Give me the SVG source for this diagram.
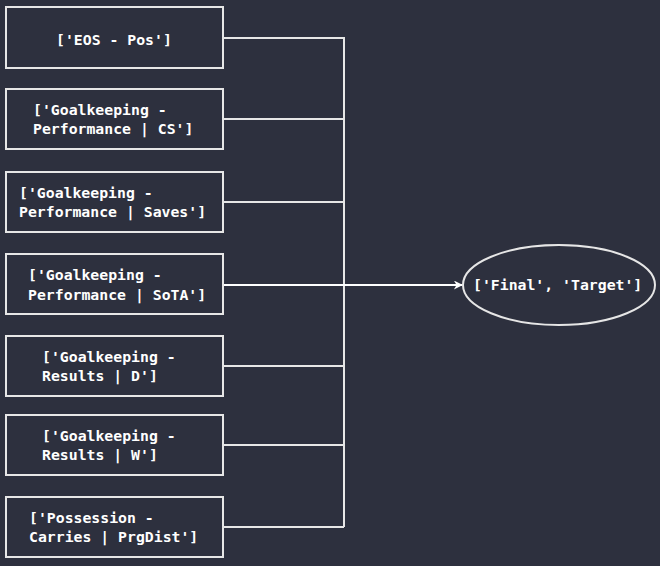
<svg xmlns="http://www.w3.org/2000/svg" width="660" height="566" viewBox="0 0 660 566">
<defs>
<style>
.bg{fill:#2d303e}
.box{fill:#2d303e;stroke:#e6e6e6;stroke-width:2}
.t{font-family:"DejaVu Sans Mono","Liberation Mono",monospace;font-weight:bold;font-size:14.8px;fill:#ffffff;white-space:pre}
.edge{fill:none;stroke:#e6e6e6;stroke-width:2}
</style>
<marker id="arr" viewBox="0 0 10 10" refX="9" refY="5" markerWidth="10" markerHeight="9" orient="auto" markerUnits="userSpaceOnUse">
<path d="M0,0 L10,5 L0,10 L3,5 z" fill="#ffffff"/>
</marker>
</defs>
<rect class="bg" x="0" y="0" width="660" height="566"/>
<g id="connectors">
<path class="edge" d="M223,38 H344 V527"/>
<path class="edge" d="M223,119 H344"/>
<path class="edge" d="M223,202 H344"/>
<path class="edge" d="M223,366 H344"/>
<path class="edge" d="M223,445 H344"/>
<path class="edge" d="M223,527 H344"/>
<path class="edge" d="M223,285 H462" marker-end="url(#arr)" style="stroke:#ffffff"/>
</g>
<g id="n1"><rect class="box" x="6" y="7" width="217" height="61"/><text class="t" x="56" y="45">['EOS - Pos']</text></g>
<g id="n2"><rect class="box" x="6" y="89" width="217" height="60"/><text class="t" x="33" y="115">['Goalkeeping - </text><text class="t" x="33" y="134">Performance | CS']</text></g>
<g id="n3"><rect class="box" x="6" y="172" width="217" height="60"/><text class="t" x="19" y="198">['Goalkeeping - </text><text class="t" x="19" y="217">Performance | Saves']</text></g>
<g id="n4"><rect class="box" x="6" y="254" width="217" height="60"/><text class="t" x="28" y="280">['Goalkeeping - </text><text class="t" x="28" y="300">Performance | SoTA']</text></g>
<g id="n5"><rect class="box" x="6" y="336" width="217" height="60"/><text class="t" x="42" y="362">['Goalkeeping - </text><text class="t" x="42" y="381">Results | D']</text></g>
<g id="n6"><rect class="box" x="6" y="415" width="217" height="60"/><text class="t" x="42" y="441">['Goalkeeping - </text><text class="t" x="42" y="460">Results | W']</text></g>
<g id="n7"><rect class="box" x="6" y="497" width="217" height="60"/><text class="t" x="29" y="523">['Possession - </text><text class="t" x="29" y="542">Carries | PrgDist']</text></g>
<g id="target"><ellipse class="box" cx="559" cy="285" rx="96" ry="40"/><text class="t" x="473" y="290">['Final', 'Target']</text></g>
</svg>
